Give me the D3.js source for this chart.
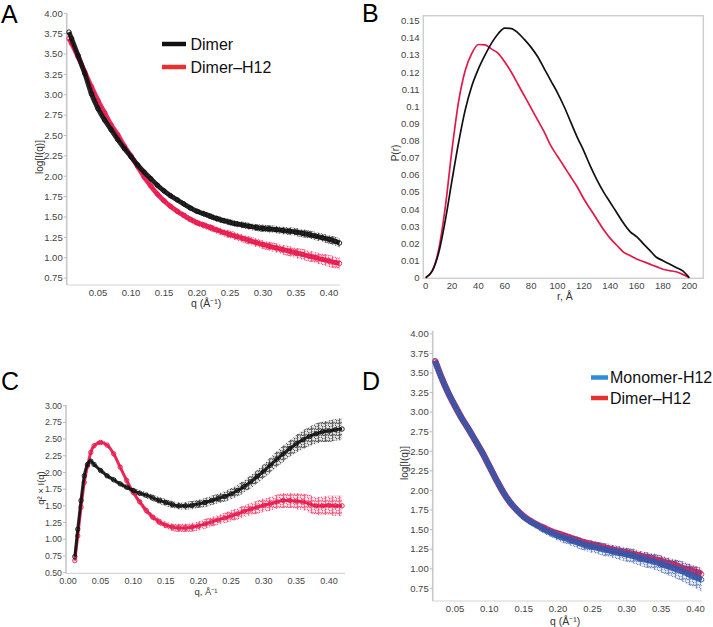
<!DOCTYPE html>
<html><head><meta charset="utf-8">
<script src="https://cdn.jsdelivr.net/npm/d3@7/dist/d3.min.js"></script>
<style>
body{margin:0;background:#fff;}
svg{font-family:"Liberation Sans",Arial,sans-serif;}
</style></head>
<body>
<svg id="c" width="713" height="627"></svg>
<script>
// ---------- Panel A : log I(q) ----------
const qA = [0.006,0.01,0.02,0.03,0.04,0.05,0.06,0.07,0.08,0.09,0.10,0.11,0.12,0.13,0.14,0.15,0.16,0.17,0.18,0.19,0.20,0.21,0.22,0.23,0.24,0.25,0.26,0.27,0.28,0.29,0.30,0.31,0.32,0.33,0.34,0.35,0.36,0.37,0.38,0.39,0.40,0.41,0.416];
const dimerA = [3.77,3.69,3.48,3.26,3.01,2.83,2.69,2.57,2.45,2.34,2.24,2.14,2.05,1.97,1.89,1.82,1.76,1.71,1.66,1.61,1.57,1.54,1.51,1.48,1.455,1.435,1.415,1.40,1.385,1.37,1.36,1.355,1.345,1.335,1.325,1.315,1.30,1.285,1.265,1.245,1.225,1.20,1.18];
const dimerSpreadA = [0.01,0.01,0.01,0.01,0.01,0.01,0.01,0.01,0.01,0.01,0.01,0.01,0.01,0.01,0.012,0.012,0.013,0.014,0.015,0.015,0.016,0.017,0.018,0.019,0.02,0.02,0.021,0.022,0.023,0.024,0.025,0.026,0.027,0.028,0.029,0.03,0.031,0.032,0.033,0.034,0.035,0.036,0.036];
const dimerH12A = [3.69,3.63,3.46,3.28,3.10,2.93,2.78,2.63,2.51,2.37,2.25,2.12,1.99,1.88,1.78,1.70,1.63,1.57,1.52,1.47,1.43,1.40,1.37,1.34,1.31,1.285,1.26,1.235,1.21,1.185,1.16,1.14,1.12,1.10,1.08,1.06,1.04,1.02,1.00,0.98,0.96,0.94,0.93];
const dimerH12SpreadA = [0.01,0.01,0.01,0.01,0.01,0.01,0.01,0.01,0.01,0.01,0.01,0.012,0.013,0.014,0.015,0.016,0.017,0.018,0.019,0.02,0.021,0.022,0.024,0.026,0.028,0.03,0.031,0.032,0.033,0.034,0.035,0.037,0.039,0.041,0.043,0.045,0.047,0.049,0.05,0.052,0.054,0.056,0.056];
const yTicksA = [0.75,1.00,1.25,1.50,1.75,2.00,2.25,2.50,2.75,3.00,3.25,3.50,3.75,4.00];
const xTicksA = [0.05,0.10,0.15,0.20,0.25,0.30,0.35,0.40];

// ---------- Panel B : P(r) ----------
const rB = [0,5,10,15,20,25,30,35,40,45,50,55,60,65,70,75,80,85,90,95,100,105,110,115,120,125,130,135,140,145,150,155,160,165,170,175,180,185,190,195,200];
const dimerB = [0,0.004,0.015,0.034,0.057,0.079,0.098,0.112,0.122,0.130,0.137,0.1425,0.1458,0.1455,0.143,0.139,0.1345,0.129,0.122,0.115,0.108,0.100,0.091,0.082,0.074,0.065,0.057,0.050,0.044,0.038,0.032,0.027,0.024,0.020,0.016,0.012,0.010,0.008,0.006,0.004,0];
const dimerH12B = [0,0.004,0.017,0.042,0.075,0.103,0.121,0.131,0.1362,0.136,0.1335,0.131,0.126,0.120,0.113,0.106,0.099,0.092,0.085,0.077,0.071,0.065,0.059,0.053,0.046,0.040,0.034,0.028,0.023,0.019,0.015,0.013,0.011,0.0095,0.008,0.0065,0.005,0.0042,0.0035,0.002,0];
const yTicksB = [0,0.01,0.02,0.03,0.04,0.05,0.06,0.07,0.08,0.09,0.1,0.11,0.12,0.13,0.14,0.15];
const xTicksB = [0,20,40,60,80,100,120,140,160,180,200];

// ---------- Panel C : Kratky ----------
const qC = [0.0105,0.015,0.02,0.025,0.03,0.035,0.04,0.05,0.06,0.07,0.08,0.09,0.10,0.11,0.12,0.13,0.14,0.15,0.16,0.17,0.18,0.19,0.20,0.21,0.22,0.23,0.24,0.25,0.26,0.27,0.28,0.29,0.30,0.31,0.32,0.33,0.34,0.35,0.36,0.37,0.38,0.39,0.40,0.41,0.42];
const dimerC = [0.74,1.15,1.58,1.95,2.12,2.17,2.12,2.03,1.95,1.89,1.83,1.78,1.73,1.69,1.66,1.62,1.58,1.55,1.52,1.50,1.50,1.51,1.53,1.55,1.58,1.61,1.64,1.68,1.73,1.79,1.86,1.94,2.02,2.11,2.20,2.28,2.36,2.43,2.49,2.54,2.58,2.61,2.62,2.64,2.65];
const dimerSpreadC = [0.01,0.01,0.01,0.01,0.01,0.01,0.01,0.01,0.01,0.012,0.014,0.016,0.018,0.02,0.022,0.025,0.03,0.03,0.03,0.03,0.035,0.04,0.04,0.045,0.05,0.05,0.055,0.06,0.065,0.07,0.075,0.08,0.085,0.09,0.095,0.1,0.1,0.11,0.12,0.12,0.13,0.13,0.14,0.14,0.14];
const dimerH12C = [0.68,1.05,1.48,1.85,2.10,2.30,2.40,2.45,2.41,2.28,2.08,1.88,1.70,1.56,1.43,1.33,1.26,1.21,1.18,1.17,1.17,1.18,1.20,1.23,1.26,1.29,1.32,1.35,1.38,1.42,1.45,1.48,1.51,1.53,1.56,1.58,1.58,1.57,1.56,1.53,1.50,1.50,1.51,1.50,1.50];
const dimerH12SpreadC = [0.01,0.01,0.01,0.01,0.01,0.01,0.01,0.01,0.01,0.012,0.014,0.016,0.018,0.02,0.022,0.025,0.03,0.03,0.035,0.04,0.04,0.045,0.045,0.05,0.05,0.05,0.055,0.06,0.06,0.065,0.07,0.075,0.08,0.08,0.085,0.09,0.09,0.1,0.1,0.11,0.11,0.12,0.12,0.13,0.13];
const yTicksC = [0.50,0.75,1.00,1.25,1.50,1.75,2.00,2.25,2.50,2.75,3.00];
const xTicksC = [0.00,0.05,0.10,0.15,0.20,0.25,0.30,0.35,0.40];

// ---------- Panel D : log I(q) ----------
const qD = [0.021,0.03,0.04,0.05,0.06,0.07,0.08,0.09,0.10,0.11,0.12,0.13,0.14,0.15,0.16,0.17,0.18,0.19,0.20,0.21,0.22,0.23,0.24,0.25,0.26,0.27,0.28,0.29,0.30,0.31,0.32,0.33,0.34,0.35,0.36,0.37,0.38,0.39,0.40,0.409];
const dimerH12D = [3.66,3.45,3.25,3.08,2.92,2.78,2.63,2.48,2.31,2.14,1.98,1.85,1.75,1.67,1.61,1.56,1.52,1.48,1.45,1.42,1.39,1.36,1.33,1.31,1.29,1.265,1.245,1.225,1.205,1.185,1.165,1.145,1.12,1.10,1.07,1.05,1.01,0.99,0.96,0.93];
const dimerH12SpreadD = [0.012,0.012,0.012,0.012,0.012,0.012,0.012,0.012,0.012,0.012,0.012,0.012,0.013,0.014,0.015,0.016,0.017,0.018,0.02,0.02,0.022,0.024,0.026,0.028,0.03,0.03,0.032,0.034,0.036,0.038,0.04,0.042,0.044,0.046,0.048,0.05,0.052,0.054,0.056,0.058];
const monomerH12D = [3.65,3.45,3.25,3.08,2.92,2.78,2.63,2.48,2.31,2.14,1.98,1.85,1.75,1.66,1.60,1.55,1.50,1.46,1.42,1.39,1.36,1.33,1.30,1.28,1.26,1.24,1.22,1.20,1.18,1.16,1.13,1.11,1.09,1.06,1.03,1.00,0.97,0.93,0.89,0.86];
const monomerH12SpreadD = [0.012,0.012,0.012,0.012,0.012,0.012,0.012,0.012,0.012,0.012,0.012,0.014,0.016,0.02,0.025,0.03,0.035,0.04,0.045,0.05,0.05,0.055,0.055,0.06,0.06,0.065,0.065,0.07,0.07,0.075,0.075,0.08,0.085,0.09,0.095,0.1,0.11,0.12,0.12,0.13];
const yTicksD = [0.75,1.00,1.25,1.50,1.75,2.00,2.25,2.50,2.75,3.00,3.25,3.50,3.75,4.00];
const xTicksD = [0.05,0.10,0.15,0.20,0.25,0.30,0.35,0.40];

const BLACK = "#111111", RED = "#e8174b", BLUE = "#3557a8";
const LEG_RED = "#e8302e", LEG_BLUE = "#2f8fd3";

const svg = d3.select("#c");
const TICK_COLOR = "#444";

// scatter texture patterns (style only)
const defs = svg.append("defs");
[["pBLACK", BLACK], ["pRED", RED], ["pBLUE", BLUE]].forEach(([id, col]) => {
  const p = defs.append("pattern").attr("id", id).attr("patternUnits", "userSpaceOnUse")
    .attr("width", 7).attr("height", 6);
  [[1.8, 1.6], [5.3, 4.6]].forEach(([cx, cy]) =>
    p.append("circle").attr("cx", cx).attr("cy", cy).attr("r", 1.9)
      .attr("fill", "none").attr("stroke", col).attr("stroke-width", 0.8));
});
const patId = {[BLACK]: "pBLACK", [RED]: "pRED", [BLUE]: "pBLUE"};

function leftAxis(g, y, x0, y0, y1, ticks, fmt, fs) {
  g.append("line").attr("x1", x0).attr("x2", x0).attr("y1", y0).attr("y2", y1)
    .attr("stroke", "#c8c8c8").attr("stroke-width", 1.6);
  ticks.forEach(t => {
    g.append("line").attr("x1", x0 - 3).attr("x2", x0).attr("y1", y(t)).attr("y2", y(t))
      .attr("stroke", "#bbb").attr("stroke-width", 1);
    g.append("text").attr("x", x0 - 4).attr("y", y(t)).attr("dy", "0.35em")
      .attr("text-anchor", "end").attr("font-size", fs).attr("fill", TICK_COLOR).text(fmt(t));
  });
}
function bottomAxis(g, x, y0, x0, x1, ticks, fmt, fs) {
  g.append("line").attr("x1", x0).attr("x2", x1).attr("y1", y0).attr("y2", y0)
    .attr("stroke", "#d4d4d4").attr("stroke-width", 1.2);
  ticks.forEach(t => {
    g.append("text").attr("x", x(t)).attr("y", y0 + 11).attr("text-anchor", "middle")
      .attr("font-size", fs).attr("fill", TICK_COLOR).text(fmt(t));
  });
}
function scatterBand(g, x, y, qs, vals, spr, color, lw) {
  const pts = qs.map((q, i) => ({q, v: vals[i], s: spr[i]}));
  const area = d3.area().curve(d3.curveMonotoneX).x(d => x(d.q))
    .y0(d => y(d.v - d.s) + 1.5).y1(d => y(d.v + d.s) - 1.5);
  g.append("path").datum(pts).attr("d", area).attr("fill", color).attr("fill-opacity", 0.12);
  g.append("path").datum(pts).attr("d", area).attr("fill", `url(#${patId[color]})`);
  g.append("path").datum(pts)
    .attr("d", d3.line().curve(d3.curveMonotoneX).x(d => x(d.q)).y(d => y(d.v)))
    .attr("fill", "none").attr("stroke", color).attr("stroke-width", lw).attr("stroke-opacity", 0.9);
  g.selectAll(null).data(pts).join("circle")
    .attr("cx", d => x(d.q)).attr("cy", d => y(d.v)).attr("r", 2.2)
    .attr("fill", "none").attr("stroke", color).attr("stroke-width", 0.9);
}
function panelLetter(x, y, t) {
  svg.append("text").attr("x", x).attr("y", y).attr("font-size", 25)
    .attr("fill", "#000").text(t);
}
const f2 = d3.format(".2f");

// ---------- A ----------
{
  const g = svg.append("g");
  const x = d3.scaleLinear([0.0026, 0.4167], [66.7, 340]);
  const y = d3.scaleLinear([0.665, 4.0], [285, 13.3]);
  bottomAxis(g, x, 285, 66.7, 340, xTicksA, f2, 9.5);
  leftAxis(g, y, 66.7, 13.3, 285, yTicksA, f2, 9.5);
  scatterBand(g, x, y, qA, dimerH12A, dimerH12SpreadA, RED, 4.8);
  scatterBand(g, x, y, qA, dimerA, dimerSpreadA, BLACK, 4.8);
  g.append("text").attr("transform", "translate(39,157) rotate(-90)").attr("text-anchor", "middle")
    .attr("dy", "0.35em").attr("font-size", 10).attr("fill", "#333").text("log[I(q)]");
  g.append("text").attr("x", 206).attr("y", 307).attr("text-anchor", "middle")
    .attr("font-size", 10.5).attr("fill", "#333").text("q (Å⁻¹)");
  g.append("line").attr("x1", 162).attr("x2", 186).attr("y1", 44).attr("y2", 44).attr("stroke", BLACK).attr("stroke-width", 4.5);
  g.append("text").attr("x", 190.5).attr("y", 49.5).attr("font-size", 16).attr("fill", "#111").text("Dimer");
  g.append("line").attr("x1", 162).attr("x2", 186).attr("y1", 67).attr("y2", 67).attr("stroke", LEG_RED).attr("stroke-width", 4.5);
  g.append("text").attr("x", 190.5).attr("y", 72.5).attr("font-size", 16).attr("fill", "#111").text("Dimer–H12");
  panelLetter(1, 23, "A");
}

// ---------- B ----------
{
  const g = svg.append("g");
  const x = d3.scaleLinear([-1.8, 210.6], [423.3, 703.3]);
  const y = d3.scaleLinear([0, 0.153], [277.8, 15.7]);
  g.append("rect").attr("x", 423.3).attr("y", 15.7).attr("width", 280).attr("height", 262.6)
    .attr("fill", "none").attr("stroke", "#cfcfcf").attr("stroke-width", 1.5);
  yTicksB.forEach(t => {
    g.append("text").attr("x", 419.5).attr("y", y(t)).attr("dy", "0.35em").attr("text-anchor", "end")
      .attr("font-size", 9.5).attr("fill", TICK_COLOR).text(String(+t.toFixed(2)));
  });
  xTicksB.forEach(t => {
    g.append("text").attr("x", x(t)).attr("y", 289).attr("text-anchor", "middle")
      .attr("font-size", 9.5).attr("fill", TICK_COLOR).text(t);
  });
  const line = d3.line().curve(d3.curveMonotoneX).x((d, i) => x(rB[i])).y(d => y(d));
  g.append("path").datum(dimerH12B).attr("d", line).attr("fill", "none").attr("stroke", "#e0194a").attr("stroke-width", 1.7);
  g.append("path").datum(dimerB).attr("d", line).attr("fill", "none").attr("stroke", BLACK).attr("stroke-width", 1.7);
  g.append("text").attr("transform", "translate(395,153) rotate(-90)").attr("text-anchor", "middle")
    .attr("dy", "0.35em").attr("font-size", 10).attr("fill", "#333").text("P(r)");
  g.append("text").attr("x", 565).attr("y", 300).attr("text-anchor", "middle")
    .attr("font-size", 10.5).attr("fill", "#333").text("r, Å");
  panelLetter(362, 22, "B");
}

// ---------- C ----------
{
  const g = svg.append("g");
  const x = d3.scaleLinear([-0.003, 0.4245], [66, 345]);
  const y = d3.scaleLinear([0.49, 3.0], [573.3, 405.7]);
  bottomAxis(g, x, 573.3, 66, 345, xTicksC, f2, 9);
  leftAxis(g, y, 66, 405, 573.3, yTicksC, f2, 8.8);
  scatterBand(g, x, y, qC, dimerH12C, dimerH12SpreadC, RED, 3);
  scatterBand(g, x, y, qC, dimerC, dimerSpreadC, BLACK, 3);
  g.append("text").attr("transform", "translate(41,488) rotate(-90)").attr("text-anchor", "middle")
    .attr("dy", "0.35em").attr("font-size", 9.5).attr("fill", "#333").text("q² × I(q)");
  g.append("text").attr("x", 206).attr("y", 595).attr("text-anchor", "middle")
    .attr("font-size", 9.5).attr("fill", "#333").text("q, Å⁻¹");
  panelLetter(1, 390, "C");
}

// ---------- D ----------
{
  const g = svg.append("g");
  const x = d3.scaleLinear([0.0176, 0.409], [432.7, 701.7]);
  const y = d3.scaleLinear([0.588, 4.04], [601, 330.7]);
  bottomAxis(g, x, 601, 432.7, 701.7, xTicksD, f2, 9.5);
  leftAxis(g, y, 432.7, 330.7, 601, yTicksD, f2, 9.5);
  scatterBand(g, x, y, qD, dimerH12D, dimerH12SpreadD, RED, 6.5);
  scatterBand(g, x, y, qD, monomerH12D, monomerH12SpreadD, BLUE, 6);
  g.append("text").attr("transform", "translate(404,463) rotate(-90)").attr("text-anchor", "middle")
    .attr("dy", "0.35em").attr("font-size", 10).attr("fill", "#333").text("log[I(q)]");
  g.append("text").attr("x", 565).attr("y", 625).attr("text-anchor", "middle")
    .attr("font-size", 10.5).attr("fill", "#333").text("q (Å⁻¹)");
  g.append("line").attr("x1", 591).attr("x2", 608).attr("y1", 377.5).attr("y2", 377.5).attr("stroke", LEG_BLUE).attr("stroke-width", 4.5);
  g.append("text").attr("x", 610).attr("y", 383).attr("font-size", 16).attr("fill", "#111").text("Monomer-H12");
  g.append("line").attr("x1", 591).attr("x2", 608).attr("y1", 398).attr("y2", 398).attr("stroke", LEG_RED).attr("stroke-width", 4.5);
  g.append("text").attr("x", 610).attr("y", 403.5).attr("font-size", 16).attr("fill", "#111").text("Dimer–H12");
  panelLetter(362, 390, "D");
}
</script>
</body></html>
